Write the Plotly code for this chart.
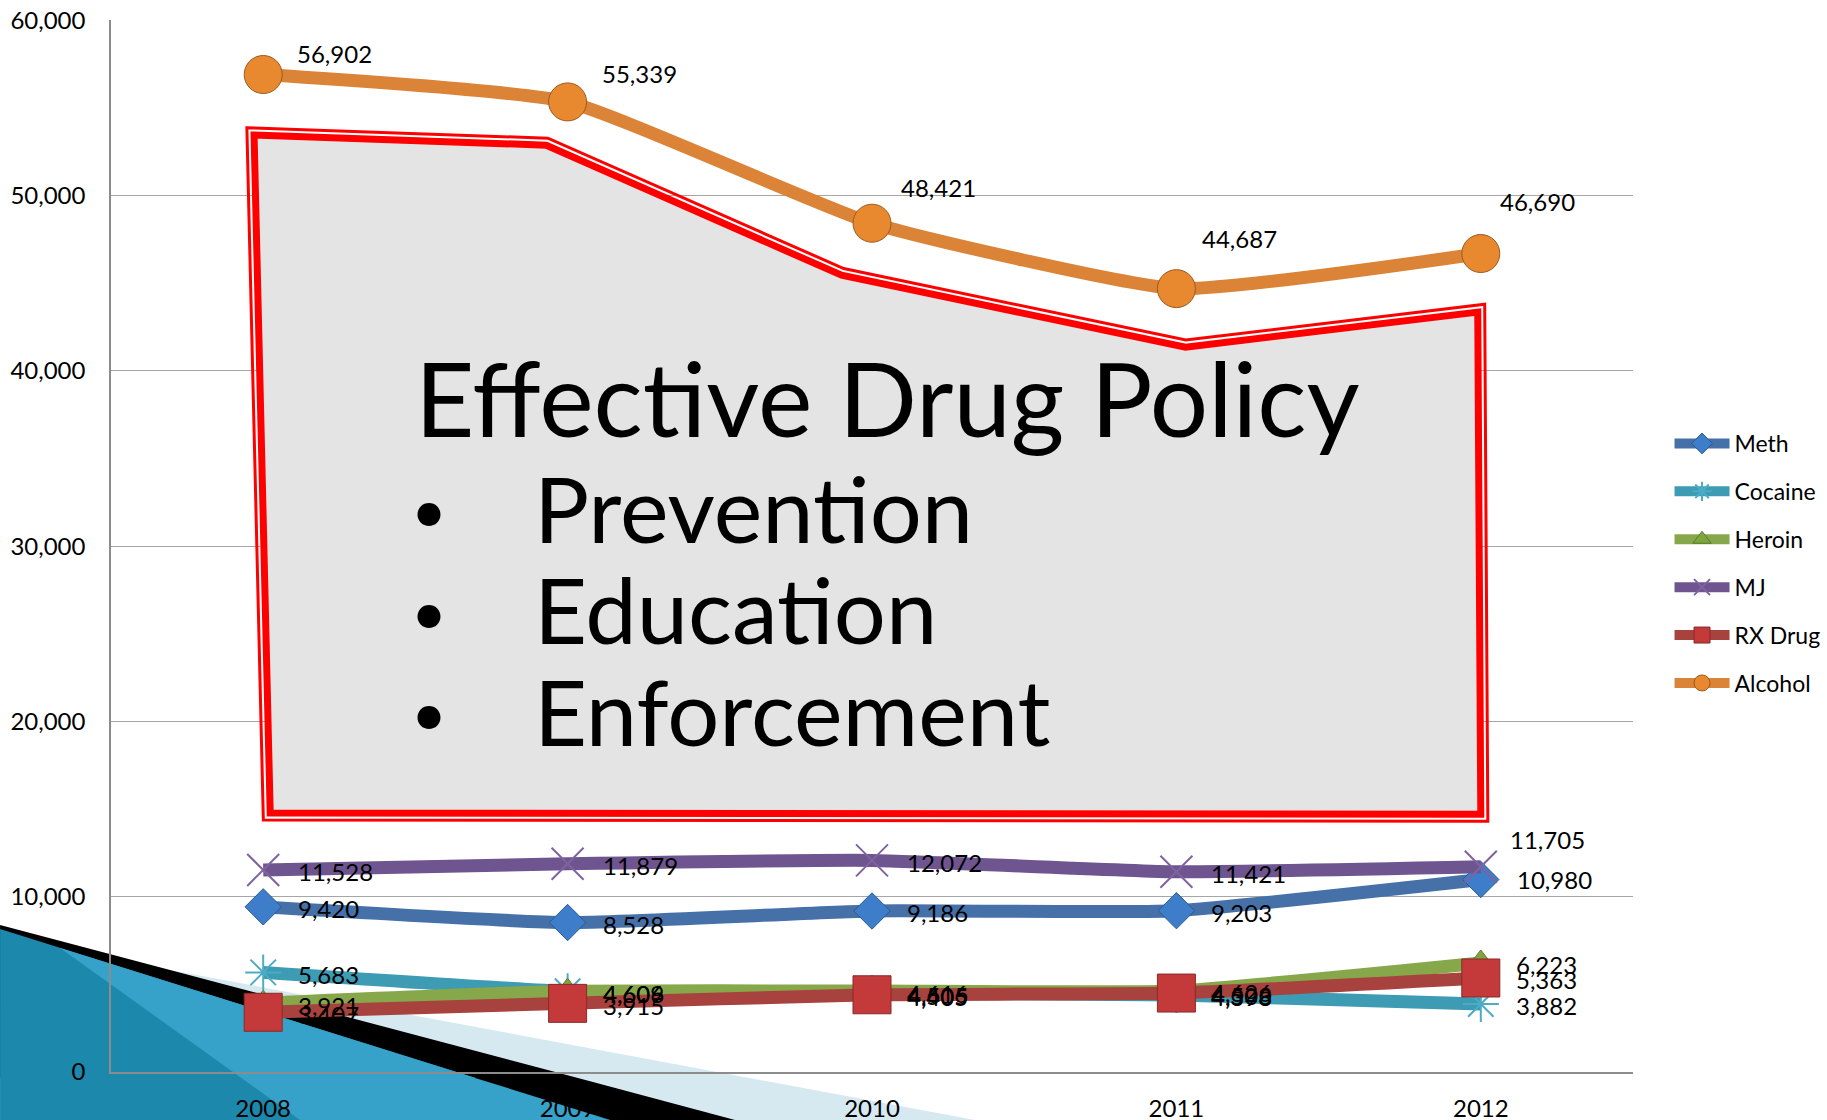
import plotly.graph_objects as go

years = ["2008", "2009", "2010", "2011", "2012"]
meth = [9420, 8528, 9186, 9203, 10980]
cocaine = [5683, 4606, 4505, 4398, 3882]
heroin = [3921, 4609, 4616, 4626, 6223]
mj = [11528, 11879, 12072, 11421, 11705]
rx_drug = [3407, 3915, 4405, 4503, 5363]
alcohol = [56902, 55339, 48421, 44687, 46690]

policy_title = "Effective Drug Policy"
policy_points = ["Prevention", "Education", "Enforcement"]

# page / plot geometry (px)
W, H = 1827, 1120
L, R, T, B = 111, 194, 20, 48
PW, PH = W - L - R, H - T - B
Y_MAX = 60000
FONT = "Lato"
xpos = list(range(len(years)))


def paper(px, py):
    return (px - L) / PW, (H - B - py) / PH


def data_to_px(i, v):
    return L + (i + 0.5) * PW / len(years), H - B - v / Y_MAX * PH


def px_to_data(px, py):
    return (px - L) / (PW / len(years)) - 0.5, (H - B - py) / PH * Y_MAX


series = [
    dict(name="Meth", y=meth, line="#4570A8", symbol="diamond", size=28,
         mcolor="#3D7DC9", mline="#2D5A90", mlw=1),
    dict(name="Cocaine", y=cocaine, line="#3D9BB3", symbol="asterisk-open", size=30,
         mcolor="#4BACC6", mline="#4BACC6", mlw=2),
    dict(name="Heroin", y=heroin, line="#86A84A", symbol="triangle-up", size=26,
         mcolor="#7FA63E", mline="#5B7A2C", mlw=1),
    dict(name="MJ", y=mj, line="#6E5590", symbol="x-thin-open", size=32,
         mcolor="#7F63A1", mline="#7F63A1", mlw=2),
    dict(name="RX Drug", y=rx_drug, line="#A8423F", symbol="square", size=38,
         mcolor="#C4393A", mline="#8A2A29", mlw=1),
    dict(name="Alcohol", y=alcohol, line="#DB8336", symbol="circle", size=38,
         mcolor="#E8882F", mline="#9A5A1F", mlw=1),
]

fig = go.Figure()
for s in series:
    fig.add_trace(go.Scatter(
        x=xpos, y=s["y"], name=s["name"], legendgroup=s["name"],
        mode="lines+markers",
        line=dict(color=s["line"], width=13, shape="spline", smoothing=0.45),
        marker=dict(symbol=s["symbol"], size=s["size"], color=s["mcolor"],
                    line=dict(color=s["mline"], width=s["mlw"])),
    ))

# data labels
default_shift = [(33, -2)] * 5
shifts = {
    "Meth": [(33, -2), (33, -2), (33, -2), (33, -2), (34, 0)],
    "Cocaine": default_shift,
    "Heroin": default_shift,
    "MJ": [(33, -2), (33, -2), (33, -2), (33, -2), (27, 27)],
    "RX Drug": default_shift,
    "Alcohol": [(32, 21), (32, 28), (27, 36), (24, 50), (17, 52)],
}
for s in series:
    for i, v in enumerate(s["y"]):
        dx, dy = shifts[s["name"]][i]
        fig.add_annotation(x=xpos[i], y=v, text=f"{v:,}", showarrow=False,
                           xanchor="left", yanchor="middle", xshift=dx, yshift=dy,
                           font=dict(family=FONT, size=24, color="black"))

# overlay panel (category index, value) along the centre of the thick red rim
panel = [(-0.03, 53450), (0.93, 52870), (1.90, 45450), (3.03, 41350),
         (3.99, 43350), (4.0, 14700), (0.023, 14770)]


def offset_px(pts, d):
    n = len(pts)
    out = []
    for k in range(n):
        p0, p1, p2 = pts[k - 1], pts[k], pts[(k + 1) % n]
        normals = []
        for a, b in ((p0, p1), (p1, p2)):
            ex, ey = b[0] - a[0], b[1] - a[1]
            ln = (ex ** 2 + ey ** 2) ** 0.5
            normals.append((ey / ln, -ex / ln))
        mx, my = normals[0][0] + normals[1][0], normals[0][1] + normals[1][1]
        ml = (mx ** 2 + my ** 2) ** 0.5
        mx, my = mx / ml, my / ml
        k_len = d / (mx * normals[0][0] + my * normals[0][1])
        out.append((p1[0] + mx * k_len, p1[1] + my * k_len))
    return out


def path_of(pts):
    return "M " + " L ".join(f"{x:.4f},{y:.4f}" for x, y in pts) + " Z"


panel_px = [data_to_px(i, v) for i, v in panel]
outer = [px_to_data(*p) for p in offset_px(panel_px, 7)]
fig.add_shape(type="path", path=path_of(outer), xref="x", yref="y", layer="above",
              line=dict(color="#FF0000", width=3), fillcolor="rgba(0,0,0,0)")
fig.add_shape(type="path", path=path_of(panel), xref="x", yref="y", layer="above",
              line=dict(color="#FF0000", width=7), fillcolor="#E4E4E4")

# panel text
tx, ty = paper(413, 397)
fig.add_annotation(xref="paper", yref="paper", x=tx, y=ty, text=policy_title,
                   showarrow=False, xanchor="left", yanchor="middle",
                   font=dict(family=FONT, size=103, color="black"))
for k, item in enumerate(policy_points):
    cy = [507, 609, 710][k]
    bx, by = paper(429, cy + 2)
    fig.add_annotation(xref="paper", yref="paper", x=bx, y=by, text="•",
                       showarrow=False, xanchor="center", yanchor="middle",
                       font=dict(family=FONT, size=62, color="black"))
    ix, iy = paper(532, cy)
    fig.add_annotation(xref="paper", yref="paper", x=ix, y=iy, text=item,
                       showarrow=False, xanchor="left", yanchor="middle",
                       font=dict(family=FONT, size=92, color="black"))


# slide decoration, bottom-left
def poly(pts, color, layer):
    fig.add_shape(type="path", xref="paper", yref="paper", layer=layer,
                  path=path_of([paper(x, y) for x, y in pts]),
                  line=dict(width=0), fillcolor=color)


poly([(100, 957), (975, 1120), (0, 1120), (0, 940)], "#D6E9F1", "below")
poly([(0, 925), (578, 1078), (0, 1078)], "#000000", "below")
poly([(0, 929), (610, 1120), (0, 1120)], "#1B88AC", "below")
poly([(60, 948), (610, 1120), (300, 1120)], "#36A2C9", "below")
poly([(475, 1078), (578, 1078), (735, 1120), (610, 1120)], "#000000", "above")

fig.update_layout(
    width=W, height=H,
    margin=dict(l=L, r=R, t=T, b=B, autoexpand=False),
    paper_bgcolor="white", plot_bgcolor="rgba(0,0,0,0)",
    font=dict(family=FONT, size=24, color="black"),
    showlegend=True,
    legend=dict(x=1.024, xanchor="left", y=paper(0, 422)[1], yanchor="top",
                font=dict(family=FONT, size=23, color="black"),
                bgcolor="rgba(0,0,0,0)", tracegroupgap=15, itemwidth=55),
    xaxis=dict(range=[-0.5, len(years) - 0.5], tickvals=xpos, ticktext=years,
               showgrid=False, showline=True, linecolor="#8C8C8C", zeroline=False,
               linewidth=1.5, ticks="", ticklabelstandoff=14, automargin=False,
               tickfont=dict(family=FONT, size=24, color="black")),
    yaxis=dict(range=[0, Y_MAX * 1.0002], dtick=10000, tickformat=",", showgrid=True,
               gridcolor="#A6A6A6", gridwidth=1, showline=True, linecolor="#8C8C8C",
               linewidth=1.5, zeroline=False, ticks="", ticklabelstandoff=19,
               automargin=False, tickfont=dict(family=FONT, size=24, color="black")),
)

fig.write_html("out.html", config={"displayModeBar": False},
               post_script="document.body.style.margin='0';")
